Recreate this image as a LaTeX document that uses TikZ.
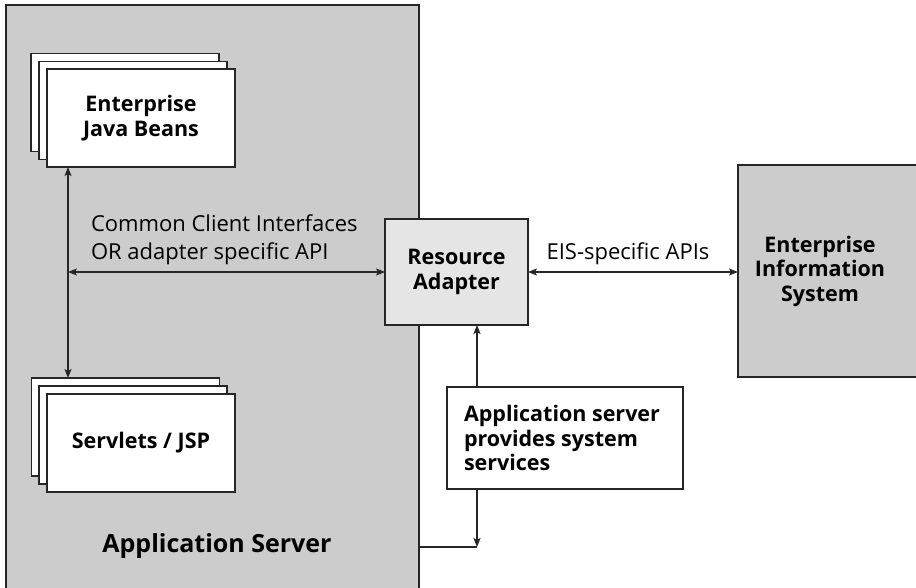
\documentclass[tikz,border=0pt]{standalone}
\usepackage{fontspec}
\setmainfont{Open Sans}
\usetikzlibrary{arrows.meta}
\begin{document}
\begin{tikzpicture}[x=1pt,y=-1pt,
  every node/.style={inner sep=0pt, outer sep=0pt},
  line/.style={line width=1.2pt, draw=black!85},
  tip/.tip={Stealth[length=9pt,width=7pt,inset=2pt]},
  arr/.style={line, tip-tip},
  oarr/.style={line, -tip},
  stackbox/.style={rectangle, line, fill=white, minimum width=188pt, minimum height=98pt},
  bigbox/.style={rectangle, line, fill=black!20},
  lbl/.style={font=\bfseries\fontsize{21.5}{24.5}\selectfont, align=center},
  txt/.style={font=\fontsize{22}{28}\selectfont, align=left}
]
\clip (0,0) rectangle (916,588);
\fill[white] (0,0) rectangle (916,588);

% application server
\node[bigbox, anchor=north west, minimum width=413pt, minimum height=640pt] (app) at (6,5) {};
\node[font=\bfseries\fontsize{25}{30}\selectfont] (applbl) at (217,546) {Application Server};

% EJB stack
\node[stackbox] (ejbc) at (125,102.5) {};
\node[stackbox] (ejbb) at (133,110.5) {};
\node[stackbox, lbl] (ejb) at (141,118) {Enterprise\\Java Beans};

% Servlets stack
\node[stackbox] (srvc) at (125.5,427) {};
\node[stackbox] (srvb) at (133,435) {};
\node[stackbox, lbl] (srv) at (141,443) {Servlets / JSP};

% resource adapter
\node[rectangle, line, fill=black!10, minimum width=143pt, minimum height=106pt, lbl] (ra) at (456.5,272) {Resource\\Adapter};

% EIS
\node[bigbox, anchor=north west, minimum width=220pt, minimum height=212pt] (eis) at (738,165) {};
\node[lbl] (eislbl) at (820,271) {Enterprise\\Information\\System};

% system services box
\node[rectangle, line, fill=white, minimum width=236pt, minimum height=102pt] (svc) at (565,438) {};
\node[lbl, align=left, anchor=west] (svclbl) at (464,438) {Application server\\provides system\\services};

% connectors
\coordinate (vx) at (68,0);
\coordinate (sx) at (477,0);
\coordinate (corner) at (477,547);
\draw[arr] (vx |- ejb.south) -- (vx |- srvc.north);
\draw[arr] (vx |- ra.west) -- (ra.west);
\node[txt, anchor=south west] (ccilbl) at (91,265) {Common Client Interfaces\\OR adapter specific API};
\draw[arr] (ra.east) -- (eis.west |- ra.east);
\node[font=\fontsize{22}{28}\selectfont, anchor=south] (eisapi) at (628,265) {EIS-specific APIs};
\draw[oarr] (sx |- svc.north) -- (sx |- ra.south);
\draw[oarr] (sx |- svc.south) -- (corner);
\draw[line] (app.east |- corner) -- (corner);
\end{tikzpicture}
\end{document}
